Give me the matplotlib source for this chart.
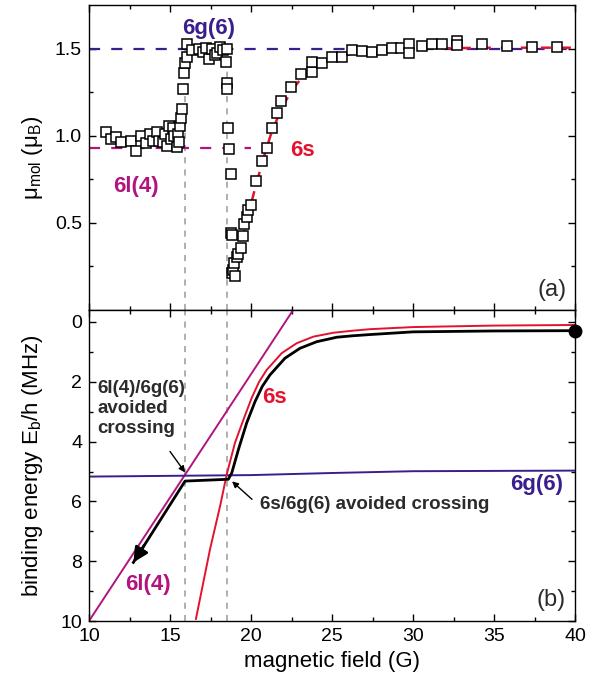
import matplotlib
matplotlib.use('Agg')
import matplotlib.pyplot as plt
from matplotlib.ticker import MultipleLocator, FixedLocator

plt.rcParams['font.family'] = ['Liberation Sans', 'DejaVu Sans']
plt.rcParams['mathtext.fontset'] = 'custom'
plt.rcParams['mathtext.rm'] = 'Liberation Sans'
plt.rcParams['mathtext.it'] = 'Liberation Sans:italic'

# ---------------- data ----------------
# (a) measured magnetic moment
field_meas = [11.05, 11.34, 11.67, 11.98, 12.59, 12.90, 13.21, 13.52, 13.77, 13.93,
              14.18, 14.34, 14.55, 14.69, 14.84, 14.96, 15.04, 15.21, 15.27, 15.41,
              15.51, 15.56, 15.62, 15.66, 15.72, 15.78, 15.86, 15.95, 16.03, 16.03,
              16.34, 16.79, 17.06, 17.22, 17.43, 17.57, 17.78, 17.92, 18.09, 18.29,
              18.46, 18.50, 18.52, 18.54, 18.60, 18.66, 18.74, 18.77, 18.81, 18.81,
              18.91, 19.01, 18.97, 19.12, 19.22, 19.36, 19.49, 19.57, 19.73, 19.84,
              20.00, 20.31, 20.66, 20.97, 21.28, 21.58, 21.85, 22.45, 23.09, 23.74,
              23.79, 24.36, 24.98, 25.60, 26.21, 26.83, 27.45, 28.07, 28.68, 29.24,
              29.75, 29.75, 30.53, 31.15, 31.77, 32.70, 32.70, 34.24, 35.79, 37.33,
              38.88]
mu_meas = [1.019, 0.981, 0.990, 0.966, 0.972, 0.915, 0.996, 0.958, 1.009, 0.972,
           1.019, 0.972, 0.962, 1.009, 0.943, 1.057, 0.981, 1.047, 1.000, 0.934,
           1.009, 0.962, 1.057, 1.104, 1.151, 1.268, 1.362, 1.415, 1.453, 1.528,
           1.490, 1.500, 1.481, 1.506, 1.438, 1.500, 1.462, 1.475, 1.509, 1.490,
           1.425, 1.500, 1.302, 1.268, 1.042, 0.925, 0.783, 0.443, 0.430, 0.211,
           0.230, 0.198, 0.268, 0.302, 0.321, 0.358, 0.425, 0.491, 0.532, 0.575,
           0.604, 0.740, 0.853, 0.930, 1.047, 1.128, 1.198, 1.279, 1.355, 1.364,
           1.421, 1.415, 1.449, 1.453, 1.490, 1.487, 1.481, 1.490, 1.506, 1.506,
           1.525, 1.475, 1.513, 1.525, 1.525, 1.543, 1.519, 1.528, 1.513, 1.509,
           1.509]

mu_6g6 = 1.5
mu_6l4 = 0.93
field_6l4_level = [10.0, 20.0]

s6_top_field = [18.9, 19.3, 19.7, 20.2, 20.7, 21.2, 21.8, 22.5, 23.3, 24.2, 25.2,
                26.5, 28.0, 30.0, 35.0, 40.0]
s6_top_mu = [0.18, 0.33, 0.50, 0.68, 0.85, 1.00, 1.14, 1.26, 1.35, 1.41, 1.45,
             1.475, 1.49, 1.50, 1.505, 1.505]

crossing_fields = [15.93, 18.54]

# (b) binding energies (MHz)
l4_field = [10.0, 22.6]
l4_energy = [10.0, -0.4]

g6_field = [10.0, 20.0, 25.0, 30.0, 40.0]
g6_energy = [5.17, 5.12, 5.05, 4.99, 4.97]

s6_field = [16.6, 17.47, 18.09, 18.5, 19.01, 19.53, 20.04, 20.5, 20.97, 21.9,
            22.82, 23.85, 25.08, 26.3, 27.35, 30.0, 35.0, 40.0]
s6_energy = [9.93, 7.6, 6.16, 5.1, 4.04, 3.27, 2.54, 2.0, 1.6, 1.04,
             0.71, 0.49, 0.36, 0.29, 0.24, 0.17, 0.12, 0.10]

mol_field = [12.74, 15.93, 18.6, 18.81, 19.22, 19.73, 20.25, 20.7, 21.17, 22.1,
             23.02, 24.05, 25.29, 26.3, 27.35, 30.0, 35.0, 40.0]
mol_energy = [8.04, 5.32, 5.26, 5.05, 4.27, 3.38, 2.66, 2.15, 1.77, 1.21,
              0.88, 0.66, 0.51, 0.46, 0.42, 0.33, 0.30, 0.29]

# ---------------- styles ----------------
INDIGO = '#3b1e8e'
MAGENTA = '#b3137f'
RED = '#e3132f'
GREY = '#9a9a9a'
TXT = '#2b2b2b'

fig = plt.figure(figsize=(6.03, 6.85), dpi=100)
ax1 = fig.add_axes([0.1476, 0.5474, 0.806, 0.4453])
ax2 = fig.add_axes([0.1476, 0.0934, 0.806, 0.4540])

for ax in (ax1, ax2):
    for s in ax.spines.values():
        s.set_linewidth(1.0)
    ax.tick_params(which='both', direction='in', top=True, right=True,
                   labelsize=14, width=1.0, pad=5)
    ax.tick_params(which='major', length=5)
    ax.tick_params(which='minor', length=3)
    ax.set_xlim(10, 40)
    ax.xaxis.set_major_locator(MultipleLocator(5))
    ax.xaxis.set_minor_locator(MultipleLocator(2.5))

# ---- panel (a)
ax1.set_ylim(0, 1.75)
ax1.yaxis.set_major_locator(FixedLocator([0.5, 1.0, 1.5]))
ax1.yaxis.set_minor_locator(FixedLocator([0.25, 0.75, 1.25]))
ax1.tick_params(labelbottom=False)

for xf in crossing_fields:
    ax1.plot([xf, xf], [0, 1.5], ls=(0, (4, 4)), color=GREY, lw=1.1, zorder=1)

ax1.plot([10, 40], [mu_6g6, mu_6g6], ls=(0, (5, 5)), color=INDIGO, lw=1.6, zorder=2)
ax1.plot(field_6l4_level, [mu_6l4, mu_6l4], ls=(0, (5, 5)), color=MAGENTA, lw=1.6, zorder=2)
ax1.plot(s6_top_field, s6_top_mu, ls=(0, (4, 4)), color=RED, lw=1.8, zorder=2)

ax1.plot(field_meas, mu_meas, 's', ms=7.5, mfc='white', mec='black', mew=1.1,
         ls='none', zorder=3)

ax1.text(15.72, 1.618, '6g(6)', color=INDIGO, fontsize=16, fontweight='bold',
         ha='left', va='center')
ax1.text(22.4, 0.913, '6s', color=RED, fontsize=16, fontweight='bold',
         ha='left', va='center')
ax1.text(11.48, 0.709, '6l(4)', color=MAGENTA, fontsize=16, fontweight='bold',
         ha='left', va='center')
ax1.text(39.5, 0.115, '(a)', color=TXT, fontsize=17, ha='right', va='center')

ax1.set_ylabel('μ$_{\\mathrm{mol}}$ (μ$_{\\mathrm{B}}$)', fontsize=16)
ax1.yaxis.set_label_coords(-0.09, 0.5)

# ---- panel (b)
ax2.set_ylim(10, -0.4)
ax2.yaxis.set_major_locator(MultipleLocator(2))
ax2.yaxis.set_minor_locator(MultipleLocator(1))

for xf in crossing_fields:
    ax2.axvline(xf, ls=(0, (4, 4)), color=GREY, lw=1.1, zorder=1)
ax2.plot(l4_field, l4_energy, color=MAGENTA, lw=1.4, zorder=2)
ax2.plot(g6_field, g6_energy, color=INDIGO, lw=1.4, zorder=2)
ax2.plot(s6_field, s6_energy, color=RED, lw=1.4, zorder=2)
ax2.plot(mol_field, mol_energy, color='black', lw=2.0, zorder=3,
         solid_joinstyle='round')
ax2.annotate('', xy=(mol_field[0], mol_energy[0]), xytext=(13.4, 7.47),
             arrowprops=dict(arrowstyle='-|>', color='black', lw=2.0,
                             mutation_scale=22, shrinkA=0, shrinkB=0), zorder=4)
ax2.plot(40, 0.29, 'o', ms=9, color='black', clip_on=False, zorder=10)

ax2.text(10.5, 1.95, '6l(4)/6g(6)\navoided\ncrossing', color=TXT, fontsize=13.5,
         fontweight='bold', ha='left', va='top', linespacing=1.2)
ax2.annotate('', xy=(15.93, 5.03), xytext=(15.0, 4.33),
             arrowprops=dict(arrowstyle='-|>', color='black', lw=1.0,
                             mutation_scale=9, shrinkA=0, shrinkB=0))
ax2.text(20.56, 6.1, '6s/6g(6) avoided crossing', color=TXT, fontsize=13.5,
         fontweight='bold', ha='left', va='center')
ax2.annotate('', xy=(18.83, 5.33), xytext=(20.06, 5.93),
             arrowprops=dict(arrowstyle='-|>', color='black', lw=1.0,
                             mutation_scale=9, shrinkA=0, shrinkB=0))
ax2.text(20.7, 2.53, '6s', color=RED, fontsize=16, fontweight='bold',
         ha='left', va='center')
ax2.text(36.0, 5.43, '6g(6)', color=INDIGO, fontsize=16, fontweight='bold',
         ha='left', va='center')
ax2.text(12.2, 8.77, '6l(4)', color=MAGENTA, fontsize=16, fontweight='bold',
         ha='left', va='center')
ax2.text(39.4, 9.3, '(b)', color=TXT, fontsize=17, ha='right', va='center')

ax2.set_xlabel('magnetic field (G)', fontsize=16)
ax2.set_ylabel('binding energy E$_{\\mathrm{b}}$/h (MHz)', fontsize=16)
ax2.yaxis.set_label_coords(-0.09, 0.5)

fig.savefig('out.png', dpi=100)
